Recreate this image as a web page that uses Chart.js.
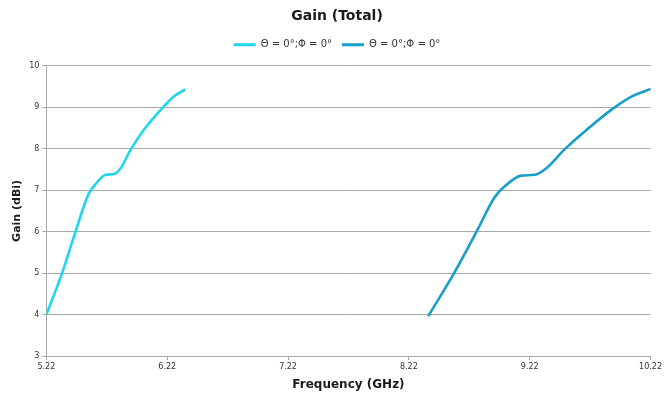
<!DOCTYPE html>
<html>
<head>
<meta charset="utf-8">
<script src="https://cdn.jsdelivr.net/npm/chart.js@4/dist/chart.umd.min.js"></script>
<style>
  html, body { margin: 0; padding: 0; background: #ffffff; }
  #wrap { width: 664px; height: 394px; position: relative; }
</style>
</head>
<body>
<div id="wrap"><canvas id="chart"></canvas></div>
<script>
// Gain (Total) versus frequency, two cuts at Θ = 0°, Φ = 0°
const freqA = [5.22, 5.35, 5.46, 5.57, 5.64, 5.71, 5.78, 5.83, 5.92, 6.03, 6.17, 6.28, 6.37];
const gainA = [4.00, 5.00, 5.99, 6.91, 7.19, 7.37, 7.39, 7.51, 7.99, 8.47, 8.95, 9.27, 9.43];

const freqB = [8.38, 8.60, 8.78, 8.93, 9.02, 9.15, 9.26, 9.35, 9.51, 9.68, 9.90, 10.07, 10.23];
const gainB = [3.96, 5.03, 6.00, 6.83, 7.11, 7.35, 7.37, 7.51, 7.99, 8.43, 8.95, 9.27, 9.45];

const seriesNames = ['Θ = 0°;Φ = 0°', 'Θ = 0°;Φ = 0°'];
const xTicks = [5.22, 6.22, 7.22, 8.22, 9.22, 10.22];
const yTicks = [3, 4, 5, 6, 7, 8, 9, 10];

const colA = '#1fd5f0';
const colB = '#179ecb';
const gridCol = '#a8a8a8';
const fontFamily = 'Tahoma, "DejaVu Sans", sans-serif';

const pts = (xs, ys) => xs.map((x, i) => ({ x: x, y: ys[i] }));

// header tweaks: extra room under the legend, title and legend nudged right
const headerShift = {
  id: 'headerShift',
  beforeLayout(chart) {
    const lg = chart.legend;
    if (lg && !lg._padded) {
      const fit = lg.fit;
      lg.fit = function () { fit.call(this); this.height += 6; };
      lg._padded = true;
    }
  },
  afterLayout(chart) {
    const dx = 6;
    [chart.titleBlock, chart.legend].forEach(b => {
      if (b) { b.left += dx; b.right += dx; }
    });
  }
};

new Chart(document.getElementById('chart'), {
  type: 'line',
  data: {
    datasets: [
      { label: seriesNames[0], data: pts(freqA, gainA), borderColor: colA, backgroundColor: colA,
        borderWidth: 2.6, pointRadius: 0, cubicInterpolationMode: 'monotone', fill: false },
      { label: seriesNames[1], data: pts(freqB, gainB), borderColor: colB, backgroundColor: colB,
        borderWidth: 2.6, pointRadius: 0, cubicInterpolationMode: 'monotone', fill: false }
    ]
  },
  plugins: [headerShift],
  options: {
    responsive: true,
    maintainAspectRatio: false,
    animation: false,
    layout: { padding: { left: 11, right: 13, top: 4, bottom: 2 } },
    plugins: {
      title: {
        display: true, text: 'Gain (Total)', color: '#1a1a1a',
        font: { family: fontFamily, size: 14, weight: 'bold' },
        padding: { top: 4, bottom: 5 }
      },
      legend: {
        display: true, position: 'top',
        labels: {
          boxWidth: 22, boxHeight: 3, padding: 10, color: '#333333',
          font: { family: fontFamily, size: 10 },
          generateLabels: (chart) => Chart.defaults.plugins.legend.labels.generateLabels(chart)
            .map(l => Object.assign(l, { lineWidth: 0 }))
        }
      },
      tooltip: { enabled: false }
    },
    scales: {
      x: {
        type: 'linear', min: 5.22, max: 10.22,
        afterBuildTicks: (s) => { s.ticks = xTicks.map(v => ({ value: v })); },
        ticks: { color: '#333333', font: { family: fontFamily, size: 8 }, padding: 2,
                 maxRotation: 0, autoSkip: false, callback: (v) => Number(v).toFixed(2) },
        grid: { display: true, drawOnChartArea: false, drawTicks: true, tickLength: 4, color: gridCol },
        border: { display: true, color: gridCol, width: 1 },
        title: { display: true, text: 'Frequency (GHz)', color: '#1a1a1a',
                 font: { family: fontFamily, size: 12, weight: 'bold' }, padding: { top: 4, bottom: 0 } }
      },
      y: {
        type: 'linear', min: 3, max: 10,
        afterBuildTicks: (s) => { s.ticks = yTicks.map(v => ({ value: v })); },
        ticks: { color: '#333333', font: { family: fontFamily, size: 8 }, padding: 3 },
        grid: { display: true, drawOnChartArea: true, drawTicks: true, tickLength: 4, color: gridCol },
        border: { display: true, color: gridCol, width: 1 },
        title: { display: true, text: 'Gain (dBi)', color: '#1a1a1a',
                 font: { family: fontFamily, size: 11, weight: 'bold' }, padding: { top: 0, bottom: 2 } }
      }
    }
  }
});
</script>
</body>
</html>
